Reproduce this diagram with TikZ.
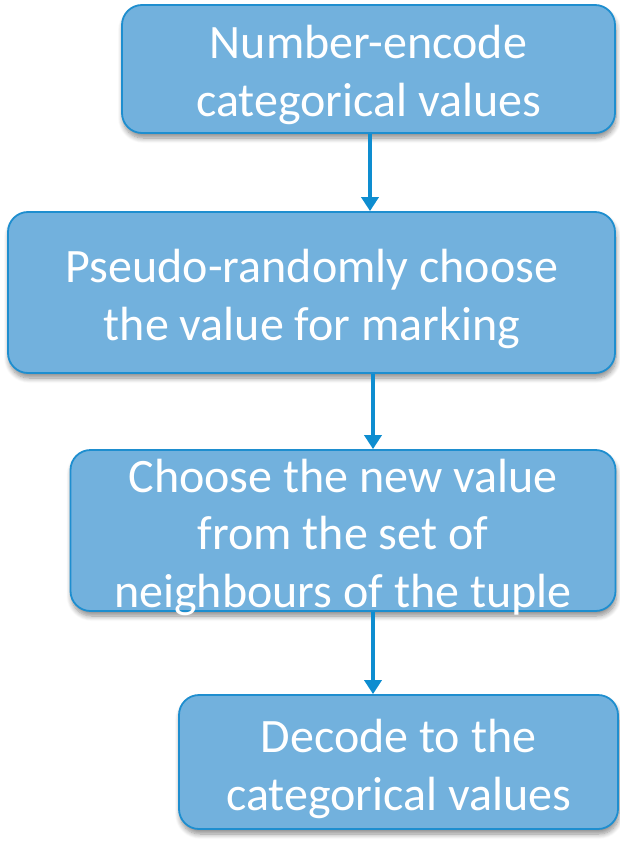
\documentclass[tikz,border=0pt]{standalone}
\usepackage{fontspec}
\setmainfont{Carlito}
\usetikzlibrary{arrows.meta,shadows.blur}
\definecolor{boxfill}{HTML}{72B1DD}
\definecolor{boxline}{HTML}{1E8ECF}
\definecolor{arrcol}{HTML}{0E8DD0}
\tikzset{
  flowbox/.style={draw=boxline, line width=1.8pt, fill=boxfill, rounded corners=20pt,
    inner sep=0pt, blur shadow={shadow xshift=1pt, shadow yshift=-5pt, shadow blur steps=8, shadow opacity=45, shadow blur radius=5pt}},
  flowtext/.style={text=white, font=\fontsize{48}{57.5}\selectfont, align=center, inner sep=0pt},
  flowarr/.style={draw=arrcol, line width=4pt, -{Triangle[width=17pt,length=14pt]}}
}
\begin{document}
\begin{tikzpicture}[x=1pt,y=-1pt]
\useasboundingbox (0,0) rectangle (620,842);
\node[flowbox, minimum width=493pt, minimum height=128pt] (b1) at (368.5,69) {};
\node[flowtext] (t1) at (368.5,75) {Number-encode\\categorical values};
\node[flowbox, minimum width=607pt, minimum height=161pt] (b2) at (311.5,292.5) {};
\node[flowtext] (t2) at (312,299) {Pseudo-randomly choose\\the value for marking};
\node[flowbox, minimum width=545pt, minimum height=161pt] (b3) at (343,530.5) {};
\node[flowtext] (t3) at (343,537) {Choose the new value\\from the set of\\neighbours of the tuple};
\node[flowbox, minimum width=439pt, minimum height=134pt] (b4) at (398.5,762) {};
\node[flowtext] (t4) at (398.5,769) {Decode to the\\categorical values};
\draw[flowarr] (b1.south -| 370,0) -- (b2.north -| 370,0);
\draw[flowarr] (b2.south -| 373,0) -- (b3.north -| 373,0);
\draw[flowarr] (b3.south -| 373,0) -- (b4.north -| 373,0);
\end{tikzpicture}
\end{document}
